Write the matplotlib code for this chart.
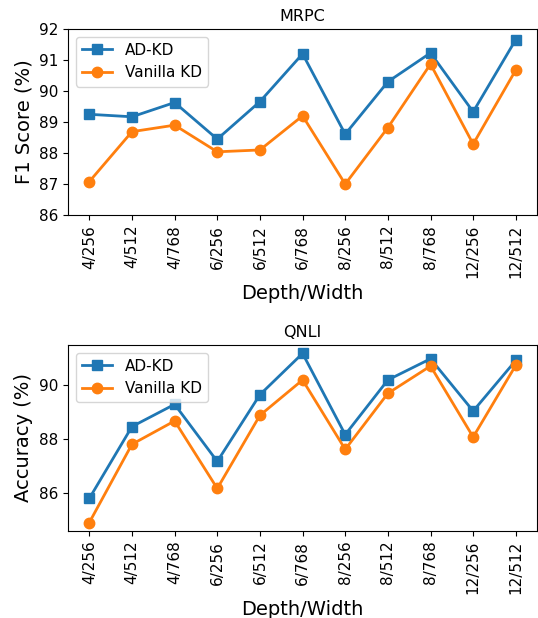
import numpy as np
import matplotlib
matplotlib.use("Agg")
import matplotlib.pyplot as plt

configs = ["4/256", "4/512", "4/768", "6/256", "6/512", "6/768",
           "8/256", "8/512", "8/768", "12/256", "12/512"]

# MRPC F1
mrpc_adkd = [89.25, 89.17, 89.63, 88.45, 89.66, 91.20, 88.61, 90.30, 91.23, 89.33, 91.66]
mrpc_vanilla = [87.08, 88.69, 88.90, 88.04, 88.10, 89.20, 87.00, 88.82, 90.87, 88.29, 90.68]

# QNLI accuracy
qnli_adkd = [85.78, 88.46, 89.29, 87.16, 89.65, 91.19, 88.16, 90.20, 90.99, 89.04, 90.93]
qnli_vanilla = [84.88, 87.80, 88.67, 86.15, 88.88, 90.20, 87.61, 89.70, 90.72, 88.07, 90.75]

fig = plt.figure(figsize=(5.38, 6.18), dpi=100)
ax1 = fig.add_axes([0.1264, 0.652, 0.872, 0.301])
ax2 = fig.add_axes([0.1264, 0.1408, 0.872, 0.301])

x = np.arange(len(configs))

def draw(ax, adkd, vanilla, title, ylabel):
    ax.plot(x, adkd, marker='s', color='#1f77b4', linewidth=2, markersize=7.5, label='AD-KD')
    ax.plot(x, vanilla, marker='o', color='#ff7f0e', linewidth=2, markersize=7.5, label='Vanilla KD')
    ax.set_title(title, fontsize=11.5)
    ax.set_ylabel(ylabel, fontsize=14)
    ax.set_xlabel('Depth/Width', fontsize=14)
    ax.set_xticks(x)
    ax.set_xticklabels(configs, rotation=90, fontsize=11)
    ax.tick_params(axis='y', labelsize=11)
    ax.legend(loc='upper left', fontsize=11)

draw(ax1, mrpc_adkd, mrpc_vanilla, 'MRPC', 'F1 Score (%)')
ax1.set_ylim(86, 92)
ax1.set_yticks(np.arange(86, 93, 1))

draw(ax2, qnli_adkd, qnli_vanilla, 'QNLI', 'Accuracy (%)')
ax2.set_yticks([86, 88, 90])

fig.savefig('out.png', dpi=100)
